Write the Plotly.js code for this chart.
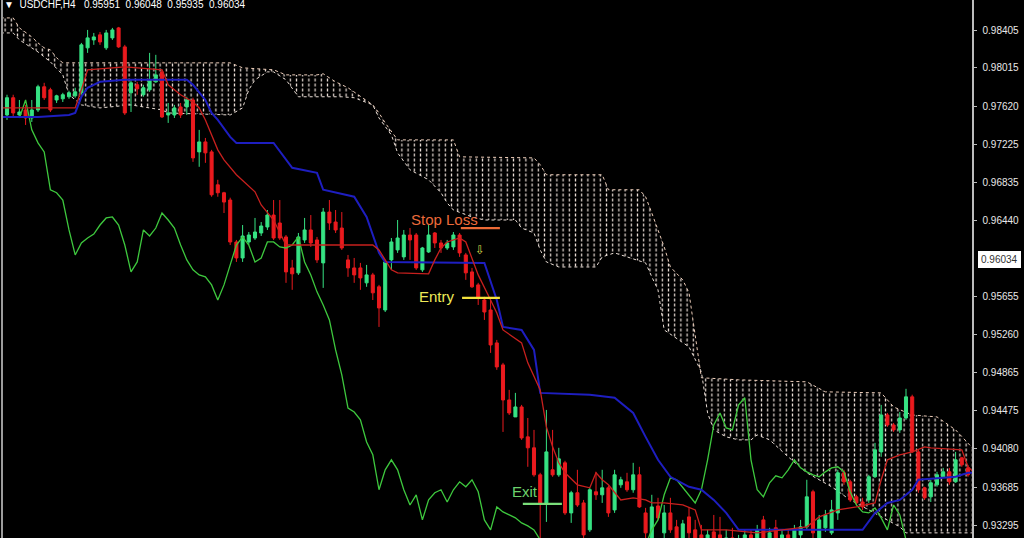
<!DOCTYPE html>
<html><head><meta charset="utf-8">
<script src="https://cdn.plot.ly/plotly-3.0.1.min.js"></script>
<style>html,body{margin:0;padding:0;background:#000;}#chart{width:1024px;height:538px;}</style>
</head><body><div id="chart"></div>
<script>
// ---- candles (USDCHF H4) ----
const open = [
0.97528,0.97706,0.97528,0.97580,0.97497,0.97580,0.97819,0.97788,0.97683,0.97695,
0.97716,0.97726,0.97757,0.98221,0.98303,0.98355,0.98221,0.98324,0.98427,0.98231,
0.97757,0.97840,0.97737,0.97788,0.97870,0.97973,0.97528,0.97528,0.97611,0.97611,
0.97683,0.97147,0.97250,0.97147,0.96807,0.96725,0.96650,0.96217,0.96052,0.96217,
0.96258,0.96310,0.96372,0.96495,0.96413,0.96269,0.95949,0.95898,0.96238,0.96341,
0.96238,0.96001,0.96526,0.96423,0.96361,0.96032,0.95949,0.95949,0.95795,0.95877,
0.95754,0.95515,0.96032,0.96135,0.96063,0.96289,0.96289,0.95929,0.96114,0.96310,
0.96207,0.96155,0.96166,0.96289,0.96083,0.95908,0.95774,0.95618,0.95515,0.95175,
0.94948,0.94586,0.94411,0.94514,0.94205,0.94092,0.93813,0.93523,0.93865,0.93813,
0.93937,0.93420,0.93628,0.93523,0.93245,0.93638,0.93607,0.93679,0.93451,0.93710,
0.93741,0.93659,0.93813,0.93420,0.93162,0.93492,0.93214,0.93420,0.93276,0.93090,
0.93379,0.93245,0.93193,0.93090,0.93224,0.93193,0.93059,0.93162,0.93059,0.93090,
0.93193,0.93162,0.93348,0.93142,0.93266,0.93090,0.93193,0.93090,0.93193,0.93276,
0.93638,0.93162,0.93266,0.93214,0.93420,0.93834,0.93741,0.93586,0.93533,0.93554,
0.93793,0.94050,0.94431,0.94328,0.94277,0.94400,0.94618,0.94050,0.93679,0.93586,
0.93710,0.93793,0.93844,0.93741,0.93989,0.93885];
const high = [
0.97737,0.97737,0.97683,0.97632,0.97683,0.97840,0.97860,0.97809,0.97737,0.97757,
0.97778,0.97809,0.98272,0.98406,0.98375,0.98385,0.98406,0.98427,0.98437,0.98252,
0.97891,0.97870,0.97840,0.98169,0.98149,0.97994,0.97652,0.97632,0.97652,0.97716,
0.97706,0.97374,0.97291,0.97168,0.96859,0.96735,0.96674,0.96238,0.96392,0.96320,
0.96465,0.96423,0.96547,0.96650,0.96650,0.96289,0.96032,0.96310,0.96465,0.96495,
0.96269,0.96568,0.96650,0.96547,0.96526,0.96083,0.96052,0.96001,0.95980,0.95898,
0.95774,0.96032,0.96258,0.96444,0.96341,0.96361,0.96310,0.96166,0.96392,0.96320,
0.96238,0.96238,0.96320,0.96310,0.96104,0.95949,0.95795,0.95651,0.95618,0.95206,
0.94969,0.94690,0.94659,0.94535,0.94400,0.94277,0.93834,0.94483,0.94277,0.94092,
0.93958,0.93648,0.93865,0.93554,0.93679,0.93844,0.93865,0.93700,0.93865,0.93793,
0.93834,0.93937,0.93896,0.93472,0.93607,0.93576,0.93502,0.93576,0.93348,0.93348,
0.93482,0.93348,0.93296,0.93245,0.93399,0.93379,0.93245,0.93266,0.93193,0.93245,
0.93245,0.93296,0.93389,0.93266,0.93348,0.93245,0.93245,0.93296,0.93348,0.93762,
0.93659,0.93399,0.93451,0.93554,0.93865,0.93865,0.93762,0.93607,0.93576,0.93813,
0.94143,0.94535,0.94452,0.94349,0.94462,0.94701,0.94640,0.94071,0.93690,0.93762,
0.93844,0.93885,0.93885,0.94050,0.93999,0.93916];
const low = [
0.97477,0.97497,0.97497,0.97425,0.97456,0.97559,0.97683,0.97559,0.97652,0.97662,
0.97695,0.97706,0.97737,0.98169,0.98252,0.98252,0.98200,0.98303,0.98221,0.97528,
0.97559,0.97737,0.97716,0.97767,0.97860,0.97497,0.97446,0.97497,0.97497,0.97528,
0.97044,0.96993,0.97034,0.96684,0.96684,0.96516,0.96186,0.96011,0.96011,0.96186,
0.96238,0.96279,0.96341,0.96238,0.96238,0.95795,0.95723,0.95877,0.96207,0.96166,
0.96001,0.95743,0.96341,0.96310,0.96135,0.95857,0.95795,0.95723,0.95754,0.95618,
0.95340,0.95494,0.95929,0.96104,0.96032,0.96032,0.95929,0.95908,0.96104,0.96155,
0.96104,0.96135,0.96135,0.96063,0.95826,0.95743,0.95567,0.95412,0.95072,0.94897,
0.94256,0.94431,0.94411,0.94174,0.93896,0.93793,0.93090,0.93327,0.93793,0.93793,
0.93399,0.93317,0.93482,0.93142,0.93224,0.93554,0.93523,0.93379,0.93420,0.93679,
0.93638,0.93628,0.93472,0.93142,0.93090,0.93348,0.93142,0.93214,0.93039,0.93039,
0.93142,0.93039,0.92987,0.93039,0.92987,0.92956,0.93018,0.92977,0.93018,0.93039,
0.93018,0.93090,0.93039,0.93090,0.93039,0.93039,0.93018,0.93039,0.93142,0.93245,
0.93142,0.93121,0.93224,0.93193,0.93348,0.93710,0.93533,0.93502,0.93451,0.93523,
0.93782,0.93999,0.94308,0.94256,0.94246,0.94380,0.94040,0.93628,0.93554,0.93533,
0.93690,0.93782,0.93710,0.93731,0.93896,0.93793];
const close = [
0.97706,0.97549,0.97559,0.97497,0.97580,0.97819,0.97706,0.97580,0.97726,0.97737,
0.97757,0.97767,0.98252,0.98324,0.98334,0.98282,0.98375,0.98406,0.98231,0.97549,
0.97860,0.97798,0.97809,0.97891,0.97942,0.97508,0.97549,0.97601,0.97528,0.97683,
0.97085,0.97250,0.97137,0.96704,0.96725,0.96629,0.96217,0.96052,0.96279,0.96289,
0.96320,0.96382,0.96495,0.96258,0.96258,0.95908,0.95888,0.96269,0.96341,0.96207,
0.96032,0.96526,0.96413,0.96341,0.96155,0.95949,0.95877,0.95846,0.95877,0.95692,
0.95536,0.96011,0.96217,0.96258,0.96289,0.96238,0.95949,0.96155,0.96289,0.96207,
0.96155,0.96207,0.96289,0.96104,0.95898,0.95754,0.95640,0.95494,0.95154,0.94927,
0.94586,0.94452,0.94514,0.94194,0.94092,0.93813,0.93523,0.94050,0.93813,0.93978,
0.93420,0.93628,0.93502,0.93193,0.93659,0.93607,0.93679,0.93420,0.93813,0.93762,
0.93659,0.93813,0.93482,0.93214,0.93482,0.93369,0.93420,0.93245,0.93090,0.93307,
0.93214,0.93090,0.93039,0.93193,0.93059,0.93039,0.93162,0.93039,0.93142,0.93193,
0.93059,0.93245,0.93090,0.93214,0.93090,0.93193,0.93059,0.93245,0.93276,0.93586,
0.93214,0.93348,0.93399,0.93451,0.93834,0.93741,0.93554,0.93523,0.93482,0.93793,
0.94071,0.94431,0.94328,0.94277,0.94400,0.94618,0.94050,0.93659,0.93576,0.93731,
0.93813,0.93844,0.93741,0.93968,0.93916,0.93813];
const bars = close.map((_, i) => i);

// ---- Ichimoku lines (bar index, price) ----
const tenkanX = [-1,11,12,13,19,25,26,28,30,31,32,34,35,37,40,41,43,44,45,59,60,61,62,63,68,69,70,71,73,74,75,76,78,79,80,83,84,86,87,88,89,90,92,94,95,96,97,99,101,103,104,106,109,111,112,114,116,121,129,131,134,137,140,141,142,144,146,148,149,154,155,156];
const tenkanY = [0.97601,0.97601,0.97788,0.97994,0.98025,0.97994,0.97840,0.97737,0.97662,0.97601,0.97477,0.97168,0.97065,0.96911,0.96735,0.96599,0.96444,0.96310,0.96186,0.96186,0.96135,0.96032,0.95929,0.95898,0.95888,0.96032,0.96155,0.96217,0.96258,0.96217,0.96052,0.95877,0.95618,0.95484,0.95309,0.95175,0.94969,0.94690,0.94308,0.94102,0.93937,0.93834,0.93710,0.93679,0.93834,0.93762,0.93710,0.93554,0.93576,0.93554,0.93523,0.93523,0.93502,0.93451,0.93245,0.93245,0.93245,0.93214,0.93276,0.93379,0.93451,0.93482,0.93523,0.93762,0.93968,0.94020,0.94050,0.94102,0.94092,0.94071,0.93896,0.93834];

const kijunX = [-1,5,10,11,12,13,15,19,29,30,32,33,34,36,37,43,46,50,51,56,58,60,61,77,79,80,83,85,86,94,98,101,103,105,107,110,112,114,116,118,138,140,142,144,146,147,151,153,155,156];
const kijunY = [0.97508,0.97508,0.97528,0.97549,0.97716,0.97809,0.97870,0.97891,0.97891,0.97840,0.97683,0.97549,0.97477,0.97302,0.97240,0.97240,0.96983,0.96931,0.96756,0.96684,0.96475,0.96104,0.96011,0.96001,0.95618,0.95340,0.95309,0.95103,0.94659,0.94640,0.94609,0.94452,0.94205,0.93968,0.93793,0.93690,0.93659,0.93554,0.93420,0.93245,0.93245,0.93420,0.93523,0.93554,0.93659,0.93762,0.93782,0.93793,0.93834,0.93834];

const chikouX = [2,3,4,5,6,7,8,9,10,11,12,13,14,15,16,17,18,19,20,21,22,23,24,25,26,27,28,29,30,31,32,33,34,35,36,37,38,39,40,41,42,43,44,45,46,47,48,49,50,51,52,53,54,55,56,57,58,59,60,61,62,63,64,65,66,67,68,69,70,71,72,73,74,75,76,77,78,79,80,81,82,83,84,85,86,90,95,100,103,104,105,106,107,108,109,110,111,112,113,114,115,116,117,118,119,120,121,122,123,124,125,126,127,128,129,130,131,132,133,134,135,136,137,138,139,140,141,142,143,144,145,146];
const chikouY = [0.97497,0.97683,0.97374,0.97240,0.97147,0.96756,0.96725,0.96650,0.96341,0.96083,0.96207,0.96258,0.96299,0.96392,0.96465,0.96475,0.96392,0.96186,0.95908,0.96011,0.96341,0.96279,0.96361,0.96516,0.96444,0.96361,0.96186,0.96032,0.95929,0.95877,0.95857,0.95774,0.95618,0.95774,0.95980,0.96186,0.96269,0.96186,0.96011,0.96052,0.96217,0.96217,0.96166,0.96155,0.96186,0.96269,0.96011,0.95877,0.95702,0.95567,0.95412,0.95103,0.94846,0.94503,0.94462,0.94380,0.94153,0.94020,0.93659,0.93865,0.93968,0.93865,0.93659,0.93502,0.93607,0.93348,0.93554,0.93628,0.93659,0.93533,0.93659,0.93741,0.93690,0.93762,0.93638,0.93348,0.93245,0.93482,0.93430,0.93399,0.93369,0.93317,0.93286,0.93245,0.93142,0.92935,0.92987,0.92956,0.93090,0.93245,0.93348,0.93607,0.93782,0.93762,0.93679,0.93607,0.93523,0.93659,0.93968,0.94328,0.94452,0.94297,0.94277,0.94535,0.94609,0.93968,0.93659,0.93586,0.93731,0.93803,0.93782,0.93865,0.93968,0.93885,0.93844,0.93813,0.93793,0.93844,0.93885,0.93896,0.93844,0.93638,0.93502,0.93430,0.93420,0.93472,0.93369,0.93245,0.93502,0.93399,0.93142,0.92987];

const spanTopX = [-1,1,2,4,5,6,7,8,9,36,38,43,45,50,51,53,55,57,59,60,61,63,72,73,85,86,87,96,97,102,103,104,105,106,107,109,110,111,112,118,129,132,141,143,146,150,153,156];
const spanTopY = [0.98530,0.98530,0.98427,0.98334,0.98272,0.98221,0.98200,0.98118,0.98066,0.98066,0.98015,0.97994,0.97942,0.97942,0.97953,0.97870,0.97809,0.97716,0.97632,0.97549,0.97446,0.97271,0.97271,0.97096,0.97085,0.97014,0.96911,0.96911,0.96756,0.96756,0.96684,0.96516,0.96341,0.96166,0.95959,0.95826,0.95692,0.95278,0.94815,0.94794,0.94773,0.94670,0.94659,0.94514,0.94431,0.94411,0.94277,0.94071];
const spanBotX = [-1,1,2,5,7,9,10,12,15,20,25,26,36,38,39,40,42,43,45,47,54,56,59,60,62,63,65,68,70,71,72,75,77,82,83,85,86,87,89,95,96,98,100,103,104,105,106,110,112,113,114,116,118,120,121,123,126,129,133,136,139,141,144,145,156];
const spanBotY = [0.98375,0.98375,0.98303,0.98179,0.98076,0.97942,0.97737,0.97632,0.97601,0.97632,0.97580,0.97549,0.97528,0.97601,0.97788,0.97891,0.97973,0.97973,0.97891,0.97716,0.97716,0.97706,0.97632,0.97497,0.97322,0.97137,0.96962,0.96859,0.96725,0.96619,0.96547,0.96475,0.96444,0.96444,0.96361,0.96310,0.96135,0.96011,0.95959,0.95959,0.96063,0.96104,0.96063,0.96001,0.95857,0.95723,0.95309,0.95134,0.94876,0.94452,0.94277,0.94205,0.94174,0.94174,0.94225,0.94174,0.93999,0.93834,0.93690,0.93554,0.93451,0.93379,0.93276,0.93214,0.93214];

// ---- trade levels ----
const levelNames = ['Stop Loss', 'Entry', 'Exit'];
const levelPrices = [0.96361, 0.95640, 0.93513];
const levelFrom = [73.2, 73.4, 83.2];
const levelTo = [79.5, 79.5, 89.5];

// ---- axis ticks ----
const tickVals = [0.98405,0.98015,0.97620,0.97225,0.96835,0.96440,0.95655,0.95260,0.94865,0.94475,0.94080,0.93685,0.93295];
const tickText = ['0.98405','0.98015','0.97620','0.97225','0.96835','0.96440','0.95655','0.95260','0.94865','0.94475','0.94080','0.93685','0.93295'];
const lastPrice = 0.96034;
const header = ['USDCHF,H4', '0.95951', '0.96048', '0.95935', '0.96034'];

const cloudColor = '#e8dcd4';
const cloudX = spanTopX.concat(spanBotX.slice().reverse());
const cloudY = spanTopY.concat(spanBotY.slice().reverse());

const traces = [
  // cloud (bottom layer, axes x/y)
  {type:'scatter', mode:'lines', x:cloudX, y:cloudY, fill:'toself', fillcolor:'rgba(0,0,0,0)',
   line:{width:0, color:'rgba(0,0,0,0)'},
   fillpattern:{shape:'|', size:6.2, solidity:0.2, fgcolor:cloudColor, fgopacity:1, bgcolor:'rgba(0,0,0,0)'},
   hoverinfo:'skip'},
  {type:'scatter', mode:'lines', x:cloudX, y:cloudY, fill:'toself', fillcolor:'rgba(0,0,0,0)',
   line:{width:0, color:'rgba(0,0,0,0)'},
   fillpattern:{shape:'-', size:5, solidity:0.4, fgcolor:'#000000', fgopacity:1, bgcolor:'rgba(0,0,0,0)'},
   hoverinfo:'skip'},
  {type:'scatter', mode:'lines', x:spanTopX, y:spanTopY, line:{color:'#ecccb8', width:1, dash:'dot'}, hoverinfo:'skip'},
  {type:'scatter', mode:'lines', x:spanBotX, y:spanBotY, line:{color:cloudColor, width:1, dash:'dot'}, hoverinfo:'skip'},
  // candles (middle layer, axes x2/y2)
  {type:'candlestick', x:bars, open:open, high:high, low:low, close:close, xaxis:'x2', yaxis:'y2',
   increasing:{line:{color:'#36e283', width:1}, fillcolor:'#36e283'},
   decreasing:{line:{color:'#ea1a1e', width:1}, fillcolor:'#ea1a1e'},
   whiskerwidth:0, hoverinfo:'skip'},
  // indicator lines (top layer, axes x3/y3)
  {type:'scatter', mode:'lines', x:chikouX, y:chikouY, xaxis:'x3', yaxis:'y3', line:{color:'#3ec83e', width:1.3}, hoverinfo:'skip'},
  {type:'scatter', mode:'lines', x:kijunX, y:kijunY, xaxis:'x3', yaxis:'y3', line:{color:'#1e1ec0', width:2}, hoverinfo:'skip'},
  {type:'scatter', mode:'lines', x:tenkanX, y:tenkanY, xaxis:'x3', yaxis:'y3', line:{color:'#c8201e', width:1.3}, hoverinfo:'skip'}
];
const levelColors = ['#ec6a36', '#f4e23c', '#7ade7a'];
levelNames.forEach((n, i) => {
  traces.push({type:'scatter', mode:'lines', x:[levelFrom[i], levelTo[i]], y:[levelPrices[i], levelPrices[i]],
    xaxis:'x3', yaxis:'y3', line:{color:levelColors[i], width:2.2}, hoverinfo:'skip', name:n});
});

const font = 'Liberation Sans, Arial, sans-serif';
const xRange = [-0.806, 155.645];
const yRange = [0.93161, 0.98715];
const hiddenX = {range:xRange, overlaying:'x', visible:false, fixedrange:true, rangeslider:{visible:false}};
const hiddenY = {range:yRange, overlaying:'y', visible:false, fixedrange:true};
const layout = {
  width:1024, height:538,
  paper_bgcolor:'#000', plot_bgcolor:'#000',
  margin:{l:2, r:52, t:0, b:0},
  showlegend:false, hovermode:false,
  xaxis:{range:xRange, showgrid:false, zeroline:false, showticklabels:false, ticks:'',
         rangeslider:{visible:false}, showline:false, fixedrange:true},
  yaxis:{side:'right', range:yRange, tickvals:tickVals, ticktext:tickText,
         showgrid:false, zeroline:false, showline:true, linecolor:'#bcbcbc', linewidth:1.5,
         ticks:'outside', ticklen:3, tickcolor:'#bcbcbc', ticklabelstandoff:4,
         tickfont:{family:font, size:10, color:'#e8e8e8'}, fixedrange:true},
  xaxis2:hiddenX, yaxis2:hiddenY,
  xaxis3:Object.assign({}, hiddenX), yaxis3:Object.assign({}, hiddenY),
  shapes:[{type:'line', xref:'paper', yref:'paper', x0:0, x1:0, y0:0, y1:1, line:{color:'#9c9c9c', width:2}}],
  annotations:[
    {xref:'paper', yref:'paper', x:0, y:1, xanchor:'left', yanchor:'top', yshift:3, xshift:0, showarrow:false,
     text:'\u25BC\u00a0 ' + header[0] + '\u00a0\u00a0 ' + header.slice(1).join('\u00a0 '),
     font:{family:font, size:10, color:'#ffffff'}},
    {xref:'paper', yref:'y', x:1, y:lastPrice, xanchor:'left', xshift:6, showarrow:false,
     text:lastPrice.toFixed(5), bgcolor:'#ffffff', bordercolor:'#ffffff', borderpad:2,
     font:{family:font, size:10, color:'#333333'}},
    {x:70.5, y:0.96454, text:levelNames[0], showarrow:false, font:{family:font, size:15, color:'#ec6a3a'}},
    {x:69.4, y:0.95659, text:levelNames[1], showarrow:false, font:{family:font, size:15, color:'#eeea58'}},
    {x:83.5, y:0.93638, text:levelNames[2], showarrow:false, font:{family:font, size:15, color:'#6cd26c'}},
    {x:76.3, y:0.96135, text:'\u21E9', showarrow:false, font:{family:'DejaVu Sans', size:12, color:'#d4d44a'}}
  ]
};
Plotly.newPlot('chart', traces, layout, {displayModeBar:false, staticPlot:true});
</script>
</body></html>
